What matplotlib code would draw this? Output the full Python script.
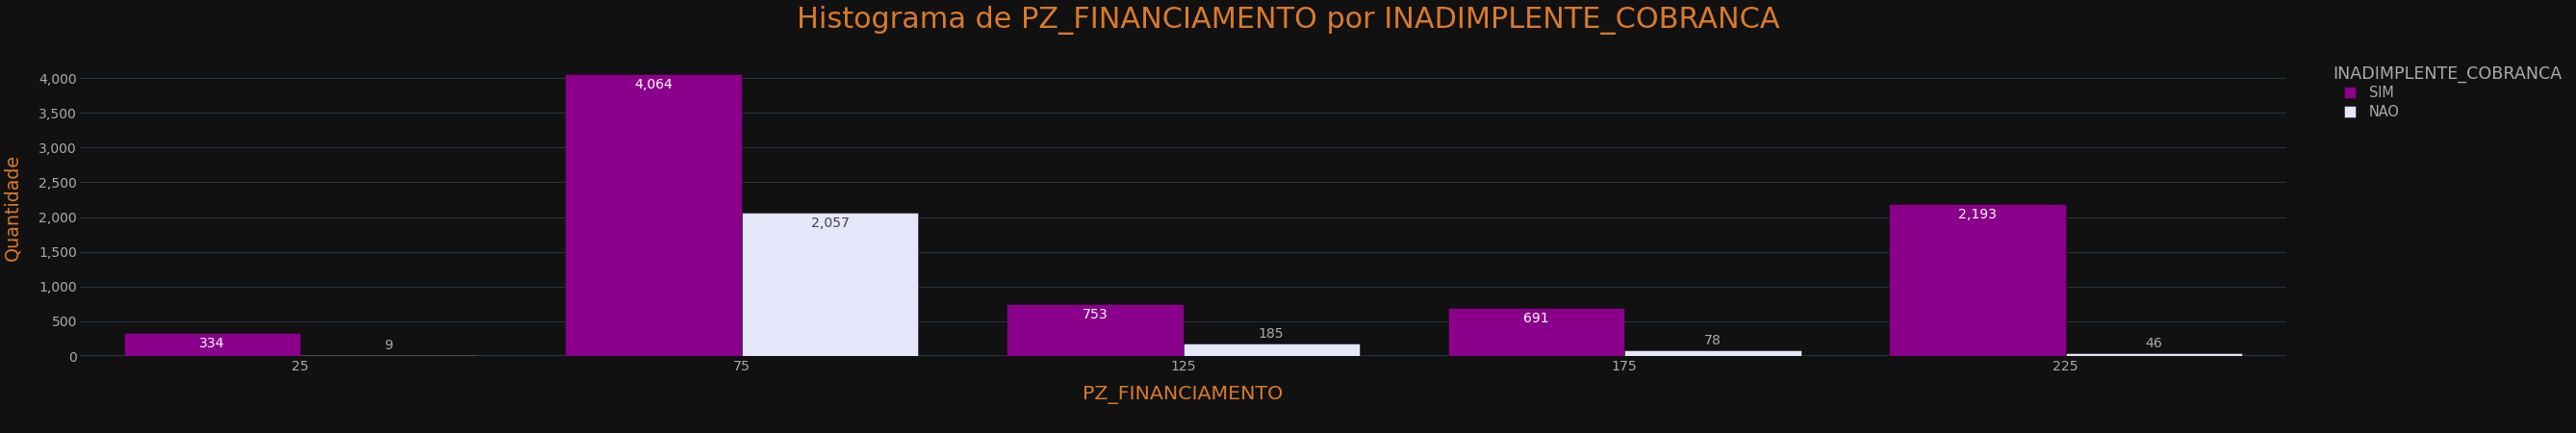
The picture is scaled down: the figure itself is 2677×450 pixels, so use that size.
import numpy as np
import matplotlib.pyplot as plt

# dados do histograma (PZ_FINANCIAMENTO em faixas de 50)
bin_centers = [25, 75, 125, 175, 225]
sim_counts = [334, 4064, 753, 691, 2193]
nao_counts = [9, 2057, 185, 78, 46]
series_names = ["SIM", "NAO"]
series_colors = ["#8B008B", "#E6E6FA"]

BG = "#111111"
GRID = "#283442"
ORANGE = "#D97A2B"
GRAY = "#ABABAB"

W, H, DPI = 2677, 450, 100
px = 72.0 / DPI  # pixels -> points

plt.rcParams['font.family'] = ['DejaVu Sans']

fig = plt.figure(figsize=(W / DPI, H / DPI), dpi=DPI, facecolor=BG)
left, right, bottom, top = 83, 2376, 370, 61
ax = fig.add_axes([left / W, 1 - bottom / H, (right - left) / W, (bottom - top) / H])
ax.set_facecolor(BG)

bin_w = 50
bar_w = bin_w * 0.8 / 2
xs = np.array(bin_centers, dtype=float)

ymax = max(max(sim_counts), max(nao_counts)) * 1.053
ax.set_xlim(0, 250)
ax.set_ylim(0, ymax)

ax.set_yticks(np.arange(0, 4001, 500))
ax.set_yticklabels([f"{int(v):,}" for v in np.arange(0, 4001, 500)])
ax.set_xticks(bin_centers)
ax.set_xticklabels([str(b) for b in bin_centers])
ax.tick_params(axis='both', length=0, colors=GRAY, labelsize=14 * px)
ax.tick_params(axis='x', pad=4 * px)
ax.tick_params(axis='y', pad=3 * px)
ax.grid(axis='y', color=GRID, linewidth=1 * px)
ax.set_axisbelow(True)
for s in ax.spines.values():
    s.set_visible(False)
ax.axhline(0, color=GRID, linewidth=2 * px, zorder=1)

px_per_unit = (bottom - top) / ymax
handles = []
for i, (vals, name, col) in enumerate(zip([sim_counts, nao_counts], series_names, series_colors)):
    offs = xs - bar_w / 2 if i == 0 else xs + bar_w / 2
    b = ax.bar(offs, vals, width=bar_w, color=col, edgecolor=BG, linewidth=0.5 * px,
               zorder=2, label=name)
    handles.append(b)
    inside_color = "white" if i == 0 else "#444444"
    for x, v in zip(offs, vals):
        if v * px_per_unit > 22:
            ax.annotate(f"{v:,}", (x, v), xytext=(0, -4 * px), textcoords='offset points',
                        ha='center', va='top', color=inside_color, fontsize=14 * px, zorder=3)
        else:
            ax.annotate(f"{v:,}", (x, v), xytext=(0, 3 * px), textcoords='offset points',
                        ha='center', va='bottom', color=GRAY, fontsize=14 * px, zorder=3)

fig.text(0.5, 1 - 21 / H, "Histograma de PZ_FINANCIAMENTO por INADIMPLENTE_COBRANCA",
         ha='center', va='center', color=ORANGE, fontsize=30.3 * px)
fig.text((left + right) / 2 / W, 1 - 410 / H, "PZ_FINANCIAMENTO",
         ha='center', va='center', color=ORANGE, fontsize=20.5 * px)
fig.text(13 / W, 1 - ((top + bottom) / 2) / H, "Quantidade", rotation=90,
         ha='center', va='center', color=ORANGE, fontsize=19 * px)

# legenda: titulo separado, itens recuados como no plotly
fig.text(2424 / W, 1 - 77 / H, "INADIMPLENTE_COBRANCA", ha='left', va='center',
         color=GRAY, fontsize=17.5 * px)
leg = fig.legend(handles=handles, labels=series_names, loc='upper left',
                 bbox_to_anchor=(2436 / W, 1 - 89 / H), frameon=False,
                 fontsize=14.5 * px, borderpad=0, borderaxespad=0,
                 handlelength=0.85, handleheight=0.85, handletextpad=0.95,
                 labelspacing=0.35)
for t in leg.get_texts():
    t.set_color(GRAY)

fig.savefig("out.png", dpi=DPI, facecolor=BG)
